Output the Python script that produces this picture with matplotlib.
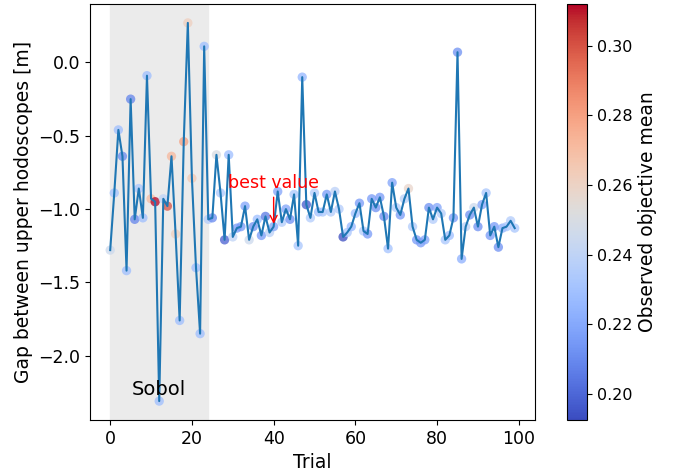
import matplotlib

matplotlib.use("Agg")
import numpy
from matplotlib import pyplot

# trial values
trial = numpy.arange(100)
gap = [
    -1.28, -0.89, -0.46, -0.64, -1.42, -0.25, -1.07, -0.86, -1.06, -0.09,
    -0.93, -0.95, -2.31, -0.93, -0.98, -0.64, -1.17, -1.76, -0.54, 0.27,
    -0.79, -1.40, -1.85, 0.11, -1.07, -1.06, -0.63, -0.89, -1.21, -0.63,
    -1.19, -1.13, -1.12, -0.98, -1.21, -1.12, -1.07, -1.18, -1.05, -1.16,
    -1.12, -0.88, -1.09, -1.00, -1.07, -0.90, -1.25, -0.10, -0.97, -1.06,
    -0.89, -1.02, -1.02, -0.90, -1.02, -0.88, -1.00, -1.19, -1.16, -1.12,
    -1.03, -0.96, -1.15, -1.17, -0.93, -0.99, -0.92, -1.05, -1.27, -0.82,
    -0.99, -1.04, -0.93, -0.86, -1.12, -1.21, -1.23, -1.21, -0.99, -1.07,
    -0.99, -1.03, -1.21, -1.18, -1.06, 0.07, -1.34, -1.12, -1.04, -0.99,
    -1.12, -0.97, -0.89, -1.18, -1.12, -1.26, -1.13, -1.12, -1.08, -1.13,
]
objective = [
    0.245, 0.230, 0.228, 0.210, 0.228, 0.208, 0.208, 0.232, 0.228, 0.228,
    0.270, 0.312, 0.228, 0.240, 0.300, 0.272, 0.262, 0.228, 0.280, 0.262,
    0.265, 0.228, 0.228, 0.228, 0.235, 0.210, 0.250, 0.232, 0.198, 0.228,
    0.240, 0.215, 0.215, 0.218, 0.245, 0.212, 0.228, 0.215, 0.205, 0.238,
    0.218, 0.218, 0.235, 0.218, 0.212, 0.232, 0.232, 0.225, 0.196, 0.235,
    0.235, 0.228, 0.232, 0.215, 0.235, 0.238, 0.235, 0.1925, 0.232, 0.225,
    0.228, 0.215, 0.235, 0.215, 0.215, 0.212, 0.215, 0.210, 0.230, 0.218,
    0.235, 0.215, 0.238, 0.258, 0.235, 0.215, 0.215, 0.218, 0.212, 0.235,
    0.218, 0.235, 0.232, 0.228, 0.215, 0.212, 0.222, 0.238, 0.212, 0.245,
    0.212, 0.218, 0.232, 0.215, 0.215, 0.212, 0.222, 0.232, 0.235, 0.232,
]
sobol_end = 24
best_trial = 40

fig = pyplot.figure(figsize=(6.78, 4.75), dpi=100)
ax = fig.add_axes([0.1327, 0.1158, 0.6563, 0.8758])
cax = fig.add_axes([0.8363, 0.1158, 0.0295, 0.8758])

ax.axvspan(0, sobol_end, color="0.92", zorder=0)
sc = ax.scatter(trial, gap, c=objective, cmap="coolwarm", s=45, alpha=0.75,
                edgecolors="none", zorder=1)
ax.plot(trial, gap, color="#1f77b4", lw=1.5, zorder=2)

ax.text(12, -2.23, "Sobol", fontsize=14, ha="center", va="center")
ax.annotate("best value", xy=(best_trial, gap[best_trial]),
            xytext=(best_trial, gap[best_trial] + 0.3),
            color="red", fontsize=12.5, ha="center", va="center",
            arrowprops=dict(arrowstyle="->", color="red"))

ax.set_xlabel("Trial", fontsize=13.5)
ax.set_ylabel("Gap between upper hodoscopes [m]", fontsize=13.5)
ax.tick_params(labelsize=12.5)

cb = fig.colorbar(sc, cax=cax)
cb.solids.set_alpha(1)
cb.set_label("Observed objective mean", fontsize=13.5)
cb.ax.tick_params(labelsize=11.5)

fig.savefig("out.png", dpi=100)
